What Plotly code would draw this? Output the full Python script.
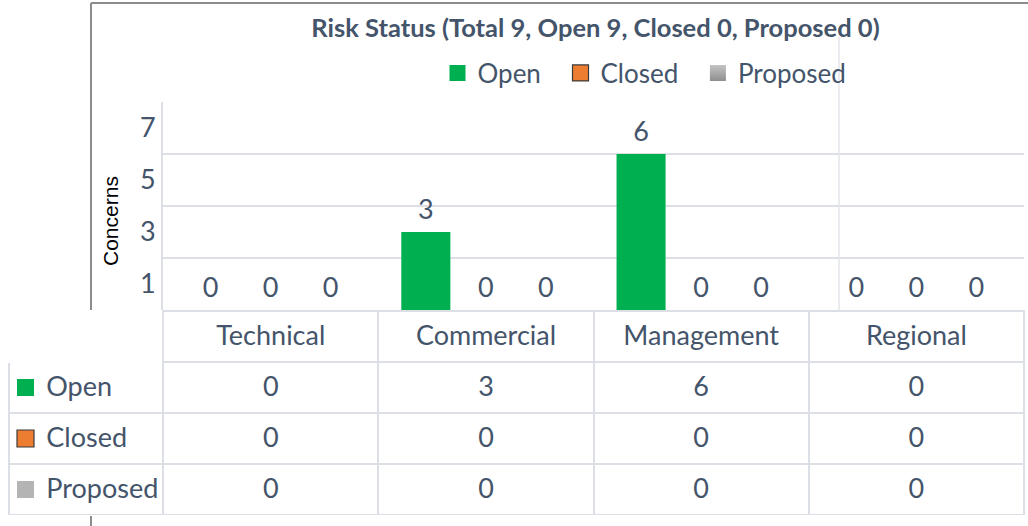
import plotly.graph_objects as go

categories = ["Technical", "Commercial", "Management", "Regional"]
series_names = ["Open", "Closed", "Proposed"]
open_vals = [0, 3, 6, 0]
closed_vals = [0, 0, 0, 0]
proposed_vals = [0, 0, 0, 0]
y_tick_vals = [1, 3, 5, 7]
title_text = "Risk Status (Total 9, Open 9, Closed 0, Proposed 0)"
y_title = "Concerns"

W, H = 1028, 526


def px(x):
    return x / W


def py(y):
    return 1 - y / H


TEXT = "#44546A"
FONT = "Lato"
GRID = "#DCE0E6"
colors = ["#00B050", "#ED7D31", "#B4B4B4"]
line_colors = ["#00B050", "#3A3A3A", "#A5A5A5"]
line_widths = [0, 1.2, 0]
series_vals = [open_vals, closed_vals, proposed_vals]

fig = go.Figure()
for name, vals, c in zip(series_names, series_vals, colors):
    fig.add_trace(go.Bar(
        x=categories, y=vals, name=name,
        marker=dict(color=c, line=dict(width=0)),
        offsetgroup=name, alignmentgroup="a",
        showlegend=False, hoverinfo="skip",
    ))

# value labels above bars (scatter grouped like the bars)
for name, vals in zip(series_names, series_vals):
    fig.add_trace(go.Scatter(
        x=categories, y=vals, mode="markers+text", text=vals,
        textposition="top center", offsetgroup=name, alignmentgroup="a",
        marker=dict(size=8, opacity=0),
        textfont=dict(family=FONT, size=27, color=TEXT),
        cliponaxis=False, showlegend=False, hoverinfo="skip",
    ))

# legend entries (on a hidden axis pair)
for name, c, lc, lw in zip(series_names, colors, line_colors, line_widths):
    marker = dict(symbol="square", size=17, color=c, line=dict(color=lc, width=lw))
    if name == "Proposed":
        marker["color"] = "#C4C4C4"
        marker["gradient"] = dict(type="vertical", color="#8E8E8E")
    fig.add_trace(go.Scatter(
        x=[None], y=[None], name=name + "\u2002\u200a", xaxis="x2", yaxis="y2",
        mode="markers", marker=marker, showlegend=True,
    ))

# data table: one layer for the grid lines, one for the text (slightly lowered)
header_vals = [""] + categories
cell_vals = [["\u2003\u2004" + n for n in series_names]] + [
    [o, c, p] for o, c, p in zip(open_vals, closed_vals, proposed_vals)
]
col_w = [154, 215, 215, 215, 215]
fig.add_trace(go.Table(
    domain=dict(x=[px(9), px(1024)], y=[py(516), py(311)]),
    columnwidth=col_w,
    header=dict(values=[""] * 5, height=51, fill_color="white",
                line=dict(color=["white"] + [GRID] * 4, width=2)),
    cells=dict(values=[[""] * 3] * 5, height=51, fill_color="white",
               line=dict(color=GRID, width=2)),
))
fig.add_trace(go.Table(
    domain=dict(x=[px(9), px(1024)], y=[py(522), py(317)]),
    columnwidth=col_w,
    header=dict(
        values=header_vals, height=51, fill_color="rgba(0,0,0,0)",
        line=dict(color="rgba(0,0,0,0)", width=0),
        font=dict(family=FONT, size=27, color=TEXT), align="center",
    ),
    cells=dict(
        values=cell_vals, height=51, fill_color="rgba(0,0,0,0)",
        line=dict(color="rgba(0,0,0,0)", width=0),
        font=dict(family=FONT, size=27, color=TEXT),
        align=["left", "center", "center", "center", "center"],
    ),
))

shapes = []
# chart-area border (cropped)
shapes.append(dict(type="line", xref="paper", yref="paper", x0=px(91), x1=1, y0=py(3), y1=py(3),
                   line=dict(color="#8C8C8C", width=2)))
shapes.append(dict(type="line", xref="paper", yref="paper", x0=px(91), x1=px(91), y0=py(3), y1=py(310),
                   line=dict(color="#8C8C8C", width=2)))
shapes.append(dict(type="line", xref="paper", yref="paper", x0=px(91), x1=px(91), y0=py(516), y1=0,
                   line=dict(color="#8C8C8C", width=2)))
# stray vertical gridline
shapes.append(dict(type="line", xref="paper", yref="paper", x0=px(839), x1=px(839), y0=py(37), y1=py(310),
                   line=dict(color="#E4E6EA", width=1.5)))
# legend keys in the table
row_centers = [387.5, 438.5, 489.5]
for yc, c, lc, lw in zip(row_centers, colors, line_colors, line_widths):
    shapes.append(dict(type="rect", xref="paper", yref="paper",
                       x0=px(17), x1=px(34), y0=py(yc + 8.5), y1=py(yc - 8.5),
                       fillcolor=c, line=dict(color=lc, width=lw if lw else 0)))

fig.update_layout(
    width=W, height=H,
    margin=dict(l=0, r=0, t=0, b=0),
    paper_bgcolor="white", plot_bgcolor="white",
    barmode="group", bargap=0.163, bargroupgap=0.183,
    scattermode="group", scattergap=0.163,
    title=dict(text="<b>" + title_text + "</b>", x=px(595.5), xanchor="center",
               y=py(28), yanchor="middle",
               font=dict(family=FONT, size=25.5, color=TEXT)),
    legend=dict(orientation="h", x=px(437.5), xanchor="left", y=py(73), yanchor="middle",
                font=dict(family=FONT, size=26, color=TEXT), bgcolor="rgba(0,0,0,0)",
                borderwidth=0),
    xaxis=dict(domain=[px(163), px(1024)], showticklabels=False, showgrid=False,
               zeroline=False, showline=False, fixedrange=True),
    yaxis=dict(domain=[py(310), py(102)], range=[0, 8], tickvals=y_tick_vals,
               showgrid=False, zeroline=False, showline=True, linecolor=GRID, linewidth=2,
               ticks="", ticklabelstandoff=0,
               tickfont=dict(family=FONT, size=27, color=TEXT),
               minor=dict(tick0=0, dtick=2, showgrid=True, gridcolor=GRID, gridwidth=2, ticks="")),
    xaxis2=dict(visible=False, domain=[0, 0.01], anchor="y2"),
    yaxis2=dict(visible=False, domain=[0, 0.01], anchor="x2"),
    shapes=shapes,
    annotations=[dict(text=y_title, xref="paper", yref="paper", x=px(110), y=py(221),
                      textangle=-90, showarrow=False, xanchor="center", yanchor="middle",
                      font=dict(family="Liberation Sans Narrow, Liberation Sans", size=21, color="black"))],
)

fig.write_html("out.html", config={"displayModeBar": False},
               post_script="document.body.style.margin='0';")
